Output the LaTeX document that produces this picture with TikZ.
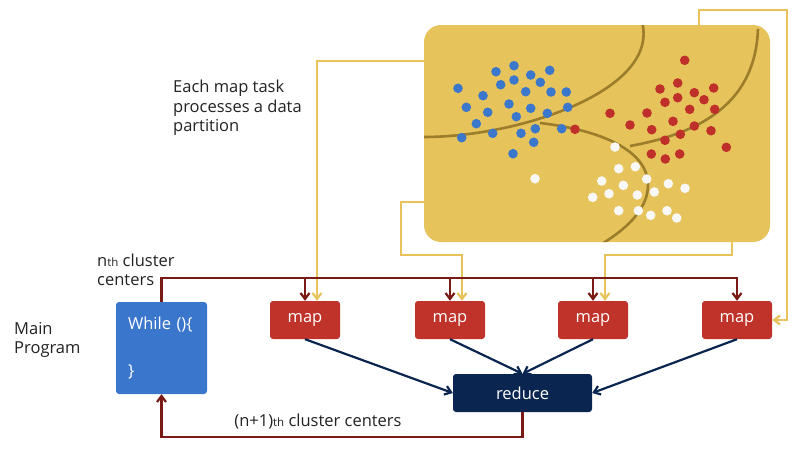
\documentclass[tikz,border=0pt]{standalone}
\usepackage{fontspec}
\setmainfont{Open Sans}
\usetikzlibrary{arrows.meta}

\definecolor{regionyellow}{HTML}{E6C35B}
\definecolor{feedyellow}{HTML}{E8C25A}
\definecolor{borderolive}{HTML}{9C7D2C}
\definecolor{dotblue}{HTML}{3B78CC}
\definecolor{dotred}{HTML}{C0302A}
\definecolor{dotwhite}{HTML}{F8F8F8}
\definecolor{mapred}{HTML}{C0332A}
\definecolor{whileblue}{HTML}{3A77CC}
\definecolor{navy}{HTML}{0A2650}
\definecolor{darkred}{HTML}{7A1A14}
\definecolor{inkgray}{HTML}{222222}

\tikzset{
  mapbox/.style={fill=mapred, draw=none, rounded corners=3pt, minimum width=70pt, minimum height=38pt, text=white, font=\fontsize{16.5}{18}\selectfont},
  ctr/.style={draw=darkred, line width=2.2pt},
  feed/.style={draw=feedyellow, line width=2.2pt},
  agg/.style={draw=navy, line width=2.2pt, -{Straight Barb[length=6pt, width=9pt]}},
  tip/.style={-{Straight Barb[length=6pt, width=9pt]}},
  label/.style={text=inkgray, align=left, font=\fontsize{16.5}{19.5}\selectfont, inner sep=0pt},
}

\newcommand{\thsub}{{\fontsize{11.5}{11.5}\selectfont th}}

\begin{document}
\begin{tikzpicture}[x=1pt, y=-1pt]
\useasboundingbox (0,0) rectangle (800,450);

\def\r{4.8pt}
\def\yc{278}
\def\yf{255}

% data partition
\node[fill=regionyellow, draw=none, rounded corners=17pt, minimum width=346pt, minimum height=217pt, inner sep=0pt] (data) at (597,133.5) {};

\begin{scope}
\clip[rounded corners=17pt] (424,25) rectangle (770,242);
\draw[borderolive, line width=2.6pt] (424,137) .. controls (520,137) and (660,90) .. (642,22);
\draw[borderolive, line width=2.6pt] (540,123) .. controls (600,130) and (648,150) .. (648,185) .. controls (648,210) and (625,230) .. (600,245);
\draw[borderolive, line width=2.6pt] (630,146) .. controls (690,135) and (755,110) .. (758,29);
\end{scope}

\foreach \p in {(496,71.7),(514,65.7),(530.7,75),(549.7,70.3),(458,88.3),(500.7,84.7),(514,80),(540.3,82.3),(483,95.7),(525.7,91.7),(551,92),(566.3,92),(466.3,107.3),(487.7,112.3),(509,104),(530.7,108.3),(547.3,113.3),(567.7,107.3),(476.3,123.7),(516.3,116.7),(535.3,128.7),(561.7,128.7),(461.7,137.7),(492.7,133.3),(521,133.3),(533.7,142.3),(513,153.7)}
  \fill[dotblue] \p circle (\r);
\foreach \p in {(575,129.3),(684.7,60.3),(677.7,83),(660,89),(694.3,92.7),(713.7,88),(677.7,97.7),(704,99.7),(665,102.3),(610,113.3),(647,113),(689.7,109.3),(714.7,109.3),(673,121.3),(630,125),(651.7,129.7),(694.3,126),(711,130.7),(680.3,134.3),(665,140.3),(726.3,147.3),(651.3,154),(665.3,159),(679.7,154)}
  \fill[dotred] \p circle (\r);
\foreach \p in {(615,147),(535,178.7),(618.7,168.7),(635.3,166.7),(601.7,181),(646.7,179),(623.3,185.3),(668.3,183.7),(685,188.3),(609,193.7),(592.7,197.3),(637.3,195),(654.3,192),(618.7,210.7),(638.3,210.7),(650.7,215.3),(667,210.7),(676.7,218)}
  \fill[dotwhite] \p circle (\r);

% program and tasks
\node[fill=whileblue, draw=none, rounded corners=3pt, minimum width=91pt, minimum height=92pt, text width=67pt, inner xsep=12pt, align=left, text=white, font=\fontsize{16.5}{19}\selectfont] (while) at (161.5,348) {While ()\{\\[28pt]\}};

\node[mapbox] (m1) at (305,320) {map};
\node[mapbox] (m2) at (450,320) {map};
\node[mapbox] (m3) at (593,320) {map};
\node[mapbox] (m4) at (737,320) {map};

\node[fill=navy, draw=none, rounded corners=3pt, minimum width=139pt, minimum height=38pt, text=white, font=\fontsize{16.5}{18}\selectfont] (reduce) at (522.5,393) {reduce};

% labels
\node[label, anchor=west] (main) at (14,340) {Main\\Program};
\node[label, anchor=west] (nth) at (97,270) {n\thsub{} cluster\\centers};
\node[label] (nplus) at (318,422) {(n+1)\thsub{} cluster centers};
\node[label, anchor=west] (each) at (173,108) {Each map task\\processes a data\\partition};

% partitions to map tasks
\draw[feed, tip] (data.west |- 0,61) -| ([xshift=12pt]m1.north);
\draw[feed, tip] (data.west |- 0,202) -- (401,202) -- (401,\yf) -| ([xshift=12pt]m2.north);
\draw[feed, tip] (data.south -| 732,0) -- (732,\yf) -| ([xshift=12pt]m3.north);
\draw[feed, tip] (data.north -| 699,0) -- (699,10) -- (787,10) |- (m4.east);

% cluster centers
\draw[ctr, tip] (while.north) |- (m4.north |- 0,\yc) -- (m4.north);
\foreach \m in {m1,m2,m3}
  \draw[ctr, tip] (\m.north |- 0,\yc) -- (\m.north);
\draw[ctr, tip] (reduce.south) -- ++(0,25) -| (while.south);

% map outputs
\draw[agg] (m1.south) -- (reduce.west);
\draw[agg] (m2.south) -- (reduce.north);
\draw[agg] (m3.south) -- (reduce.north);
\draw[agg] (m4.south) -- (reduce.east);
\end{tikzpicture}
\end{document}
